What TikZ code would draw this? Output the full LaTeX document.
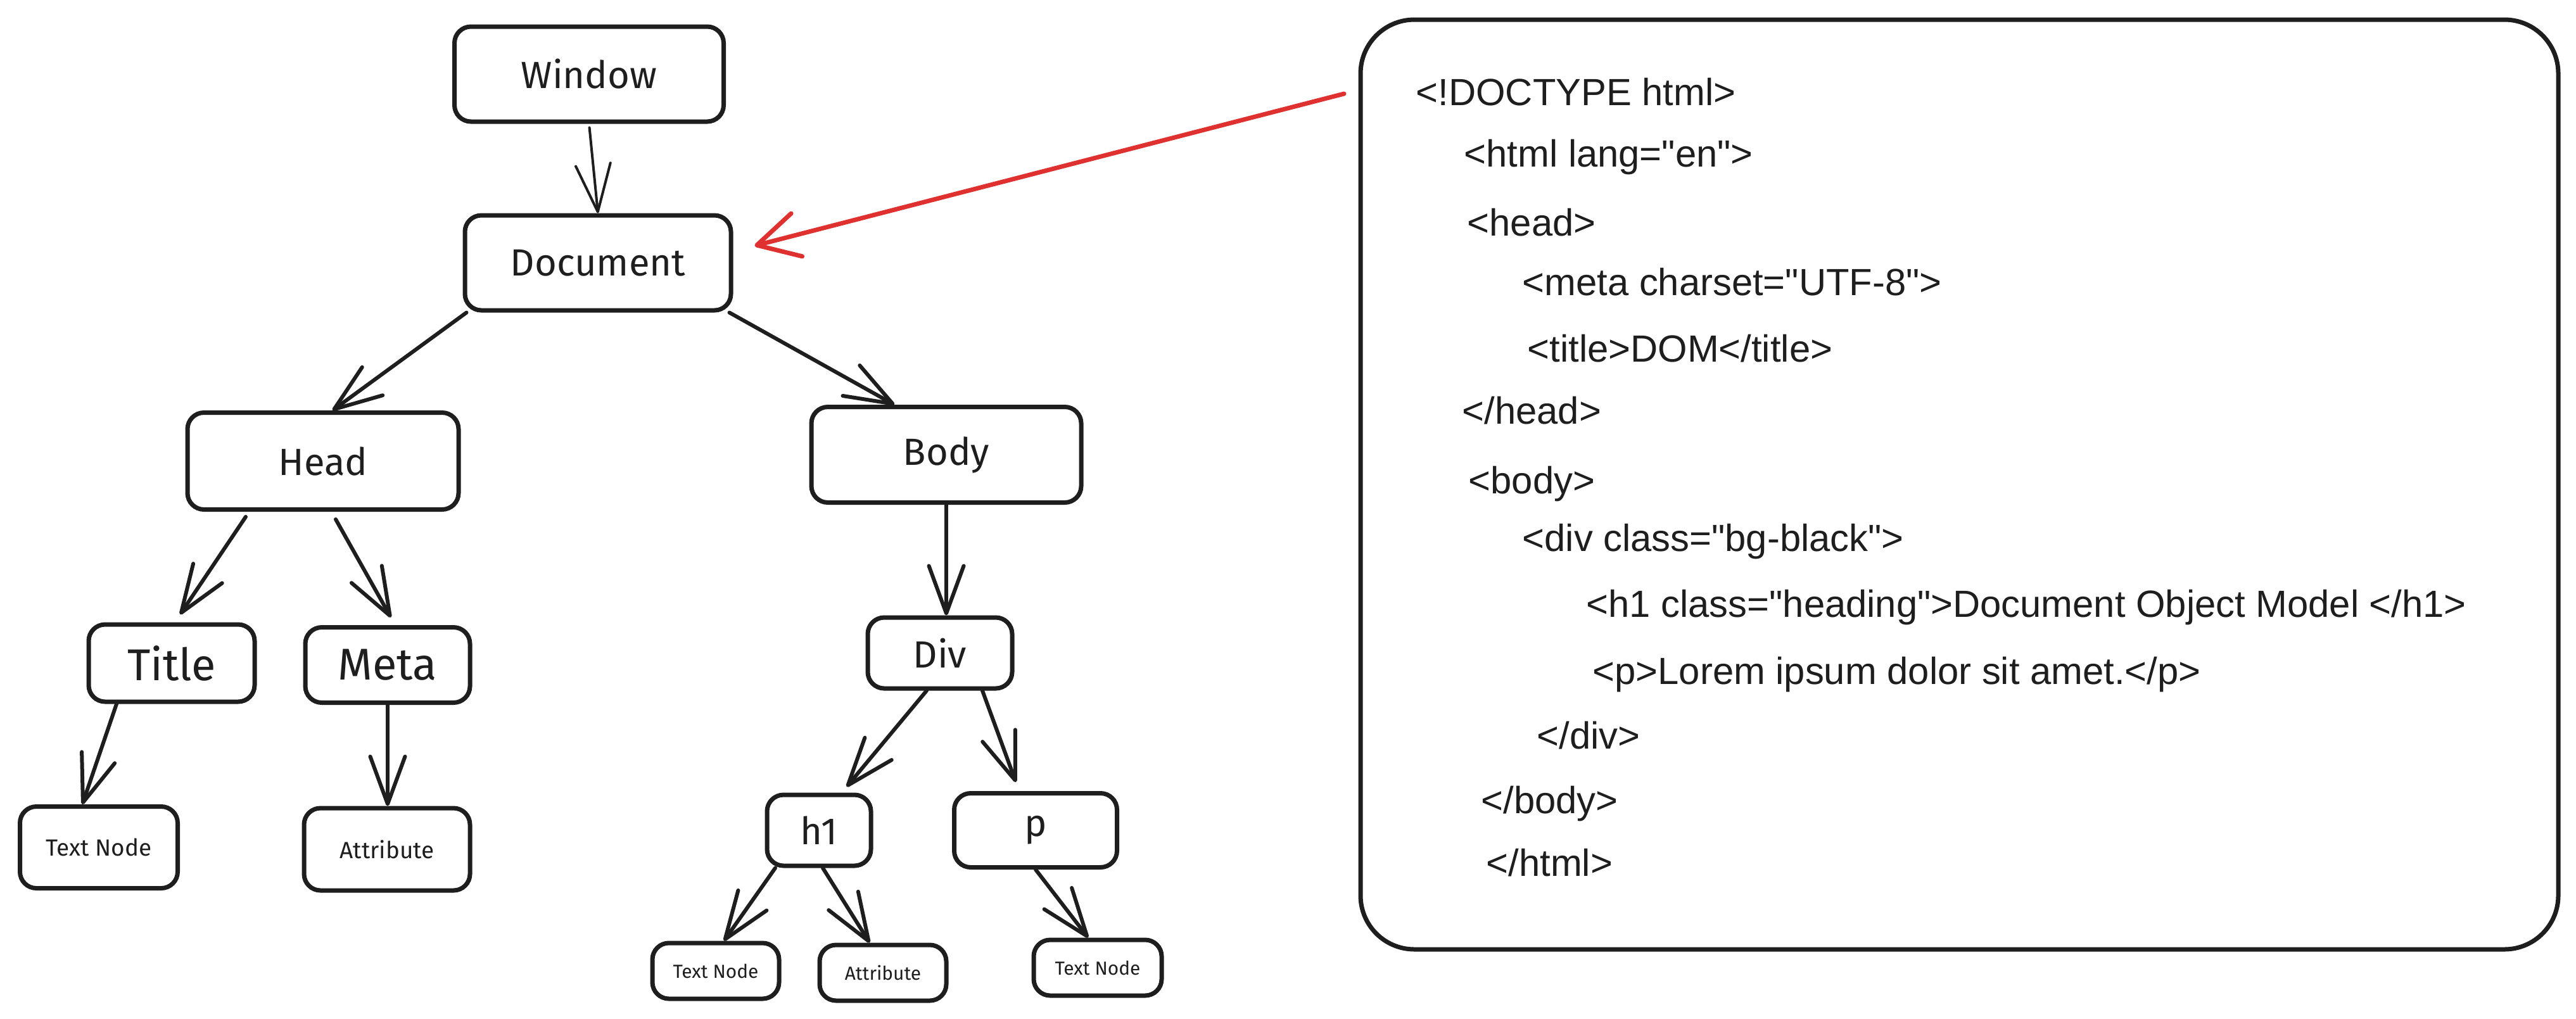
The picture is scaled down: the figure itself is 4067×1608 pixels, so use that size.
\documentclass[tikz,border=0pt]{standalone}
\usepackage{fontspec}
\setmainfont{Liberation Sans}
% plain family without TeX ligature mapping, so " stays a straight quote
\newfontfamily\codefont{Liberation Sans}
\newfontfamily\labelfont{Fira Sans}
\usetikzlibrary{arrows.meta}
\definecolor{ink}{HTML}{1E1E1E}
\definecolor{pointer}{HTML}{E03131}
\begin{document}
\begin{tikzpicture}[x=0.1mm,y=-0.1mm,
  box/.style={draw=ink, line width=0.7mm, rounded corners=2.6mm, fill=white,
    inner sep=0pt, text=ink, font=\labelfont\fontsize{17}{20}\selectfont},
  bigbox/.style={box, font=\labelfont\fontsize{20}{24}\selectfont},
  leafbox/.style={box, font=\labelfont\fontsize{10.5}{12}\selectfont},
  tinybox/.style={box, font=\labelfont\fontsize{8.5}{10}\selectfont},
  link/.style={draw=ink, line width=0.6mm, line cap=round, line join=round,
    -{Straight Barb[length=7.5mm,width=5.5mm,line cap=round,line join=round]}},
  thinlink/.style={link, line width=0.4mm},
  pointerlink/.style={draw=pointer, line width=0.7mm, line cap=round, line join=round,
    -{Straight Barb[length=6.5mm,width=7mm,line cap=round,line join=round]}},
  codeline/.style={anchor=base west, inner sep=0pt, text=ink,
    font=\codefont\fontsize{17}{20}\selectfont},
]
\fill[white] (0,0) rectangle (4067,1608);
\useasboundingbox (0,0) rectangle (4067,1608);

% --- DOM tree ---
\node[box, minimum width=42.5mm, minimum height=15mm] (win) at (930,117) {Window};
\node[box, minimum width=42mm, minimum height=15mm] (doc) at (944,415) {Document};
\node[box, minimum width=42.8mm, minimum height=15.3mm] (head) at (510,728) {Head};
\node[box, minimum width=42.6mm, minimum height=15.1mm] (body) at (1494,718) {Body};
\node[bigbox, minimum width=26.2mm, minimum height=12.2mm] (title) at (271,1047) {Title};
\node[bigbox, minimum width=26mm, minimum height=11.9mm] (meta) at (612,1050) {Meta};
\node[leafbox, minimum width=24.9mm, minimum height=12.9mm] (tnl) at (156,1338) {Text Node};
\node[leafbox, minimum width=26.2mm, minimum height=13mm] (atl) at (611,1341) {Attribute};
\node[box, minimum width=22.8mm, minimum height=11.2mm] (div) at (1484,1031) {Div};
\node[box, minimum width=16.4mm, minimum height=11.2mm] (h1) at (1293,1311) {h1};
\node[box, minimum width=25.7mm, minimum height=11.7mm] (p) at (1635,1311) {p};
\node[tinybox, minimum width=20mm, minimum height=8.8mm] (tnb) at (1130,1533) {Text Node};
\node[tinybox, minimum width=20mm, minimum height=8.8mm] (atb) at (1394,1536) {Attribute};
\node[tinybox, minimum width=20.2mm, minimum height=8.8mm] (tnc) at (1733,1528) {Text Node};

% --- tree connectors ---
\draw[thinlink, shorten <=0.6mm] (win.south) -- (doc.north);
\draw[link] ([xshift=0.6mm]doc.south west) -- ([xshift=1.5mm]head.north);
\draw[link] ([xshift=-0.6mm]doc.south east) -- ([xshift=-8.2mm]body.north);
\draw[link] (body.south) -- (body.south |- div.north);
\draw[link, shorten >=1.5mm] ([xshift=-12.2mm,yshift=-0.8mm]head.south) -- ([xshift=0.5mm]title.north);
\draw[link, shorten >=1.4mm] ([xshift=2mm,yshift=-1.2mm]head.south) -- ([xshift=1.2mm]meta.north);
\draw[link] ([xshift=-8.7mm]title.south) -- ([xshift=-2.6mm]tnl.north);
\draw[link] (meta.south) -- (meta.south |- atl.north);
\draw[link, shorten >=1.2mm] ([xshift=-2.1mm]div.south) -- ([xshift=3.6mm]h1.north);
\draw[link, shorten >=1.5mm] ([xshift=6.7mm]div.south) -- ([xshift=-2.6mm]p.north);
\draw[link] ([xshift=-6.9mm]h1.south) -- ([xshift=1.3mm]tnb.north);
\draw[link] ([xshift=0.6mm]h1.south) -- ([xshift=-2.1mm]atb.north);
\draw[link] (p.south) -- ([xshift=-1.5mm]tnc.north);

% --- HTML source panel ---
\node[draw=ink, line width=0.7mm, rounded corners=8.5mm, inner sep=0pt,
  minimum width=189.1mm, minimum height=146.8mm] (code) at (3093.5,765) {};
\node[codeline] (c1)  at (2235,166)  {<!DOCTYPE html>};
\node[codeline] (c2)  at (2311,263)  {<html lang="en">};
\node[codeline] (c3)  at (2316,372)  {<head>};
\node[codeline] (c4)  at (2403,466)  {<meta charset="UTF-8">};
\node[codeline] (c5)  at (2411,571)  {<title>DOM</title>};
\node[codeline] (c6)  at (2308,669)  {</head>};
\node[codeline] (c7)  at (2318,779)  {<body>};
\node[codeline] (c8)  at (2403,870)  {<div class="bg-black">};
\node[codeline] (c9)  at (2504,974)  {<h1 class="heading">Document Object Model </h1>};
\node[codeline] (c10) at (2514,1080) {<p>Lorem ipsum dolor sit amet.</p>};
\node[codeline] (c11) at (2426,1182) {</div>};
\node[codeline] (c12) at (2338,1284) {</body>};
\node[codeline] (c13) at (2346,1383) {</html>};

% --- pointer from the source to the Document node ---
\coordinate (src) at (2122,148);
\draw[pointerlink] (src) -- ([xshift=3.4mm,yshift=2.7mm]doc.east);
\end{tikzpicture}
\end{document}
